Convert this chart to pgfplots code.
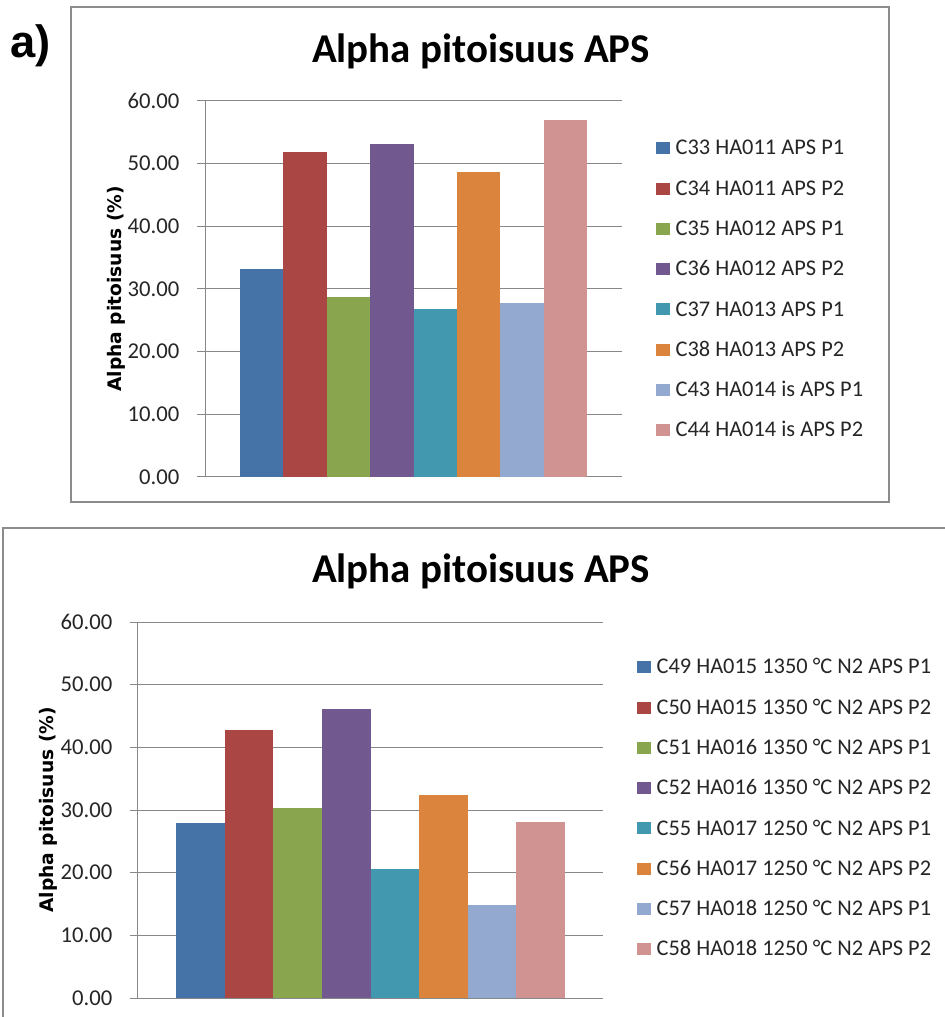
\documentclass[border=0pt]{standalone}
\usepackage{fontspec}
\setmainfont{Carlito}
\newfontfamily\labelfont{DejaVu Sans}
\newfontfamily\arialfont{Liberation Sans}
\usepackage{pgfplots}
\pgfplotsset{compat=1.18}
\definecolor{gridgray}{HTML}{888888}
\definecolor{frame}{HTML}{8C8C8C}
\definecolor{c1}{HTML}{4572A7}
\definecolor{c2}{HTML}{AA4643}
\definecolor{c3}{HTML}{89A54E}
\definecolor{c4}{HTML}{71588F}
\definecolor{c5}{HTML}{4198AF}
\definecolor{c6}{HTML}{DB843D}
\definecolor{c7}{HTML}{93A9CF}
\definecolor{c8}{HTML}{D19392}
\pgfplotsset{
  excelbar/.style={
    scale only axis, height=282pt,
    ybar=0pt, xmin=-0.5, xmax=0.5, ymin=0, ymax=60,
    xtick=\empty, ytick={0,10,20,30,40,50,60},
    ymajorgrids, grid style={draw=gridgray, line width=0.75pt},
    axis x line=bottom, axis y line=left,
    axis line style={-, draw=gridgray, line width=0.75pt},
    tick align=outside, major tick length=6pt,
    ytick style={draw=gridgray, line width=0.75pt},
    yticklabel style={/pgf/number format/.cd, fixed, fixed zerofill, precision=2, assume math mode=true,
      /tikz/.cd, font=\fontsize{17}{20}\selectfont, text=black!85, anchor=east, inner sep=0pt, xshift=-13pt},
    ylabel={Alpha pitoisuus (\%)},
    ylabel style={font=\labelfont\bfseries\fontsize{14}{16}\selectfont, anchor=center},
    legend cell align=left,
    legend image code/.code={\fill[##1, draw=none] (0pt,-4.5pt) rectangle (10pt,4.5pt);},
    legend style={draw=none, fill=none, inner sep=0pt, row sep=16.2pt,
      font=\fontsize{16.8}{20}\selectfont, text=black!85,
      nodes={inner sep=0pt, text height=12pt, text depth=2pt},
      /tikz/every odd column/.append style={column sep=4.5pt}},
  }
}
\begin{document}
\begin{tikzpicture}[x=0.75pt,y=0.75pt]
\path[use as bounding box] (0,0) rectangle (945,1017);
\clip (0,0) rectangle (945,1017);
\fill[white] (0,0) rectangle (945,1017);
\coordinate (TA) at (205,540);
\coordinate (BA) at (138,19);
% frames
\draw[frame, line width=1pt] (71,1010) rectangle (889,515);
\draw[frame, line width=1pt] (3,-20) -- (3,489) -- (960,489);
% a) label
\node[font=\arialfont\bfseries\fontsize{34}{38}\selectfont, anchor=base west, inner sep=0pt] at (10,959) {a)};
% titles
\node[font=\bfseries\fontsize{30.7}{36}\selectfont, anchor=base, inner sep=0pt] at (481,954) {Alpha pitoisuus APS};
\node[font=\bfseries\fontsize{30.7}{36}\selectfont, anchor=base, inner sep=0pt] at (481,434) {Alpha pitoisuus APS};

\begin{axis}[excelbar, at={(TA)}, anchor=south west, width=312.75pt, bar width=32.6pt,
  ylabel style={at={(axis description cs:-0.2134,0.5)}},
  legend style={at={(axis description cs:1.0815,0.8997)}, anchor=north west}]
\addplot[fill=c1, draw=none] coordinates {(0,33.2)};
\addplot[fill=c2, draw=none] coordinates {(0,51.9)};
\addplot[fill=c3, draw=none] coordinates {(0,28.7)};
\addplot[fill=c4, draw=none] coordinates {(0,53.2)};
\addplot[fill=c5, draw=none] coordinates {(0,26.8)};
\addplot[fill=c6, draw=none] coordinates {(0,48.7)};
\addplot[fill=c7, draw=none] coordinates {(0,27.7)};
\addplot[fill=c8, draw=none] coordinates {(0,56.9)};
\legend{C33 HA011 APS P1, C34 HA011 APS P2, C35 HA012 APS P1, C36 HA012 APS P2, C37 HA013 APS P1, C38 HA013 APS P2, C43 HA014 is APS P1, C44 HA014 is APS P2}
\end{axis}

\begin{axis}[excelbar, at={(BA)}, anchor=south west, width=348.75pt, bar width=36.45pt,
  ylabel style={at={(axis description cs:-0.1935,0.5)}},
  legend style={at={(axis description cs:1.0731,0.905)}, anchor=north west}]
\addplot[fill=c1, draw=none] coordinates {(0,27.9)};
\addplot[fill=c2, draw=none] coordinates {(0,42.7)};
\addplot[fill=c3, draw=none] coordinates {(0,30.3)};
\addplot[fill=c4, draw=none] coordinates {(0,46.1)};
\addplot[fill=c5, draw=none] coordinates {(0,20.6)};
\addplot[fill=c6, draw=none] coordinates {(0,32.4)};
\addplot[fill=c7, draw=none] coordinates {(0,14.9)};
\addplot[fill=c8, draw=none] coordinates {(0,28.1)};
\legend{C49 HA015 1350 °C N2 APS P1, C50 HA015 1350 °C N2 APS P2, C51 HA016 1350 °C N2 APS P1, C52 HA016 1350 °C N2 APS P2, C55 HA017 1250 °C N2 APS P1, C56 HA017 1250 °C N2 APS P2, C57 HA018 1250 °C N2 APS P1, C58 HA018 1250 °C N2 APS P2}
\end{axis}
\end{tikzpicture}
\end{document}
